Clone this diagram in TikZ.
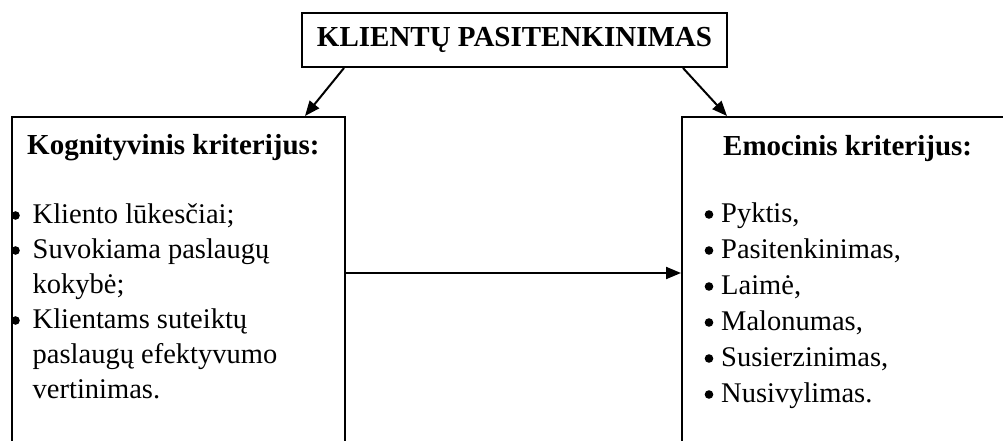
\documentclass[tikz,border=0pt]{standalone}
\usepackage{fontspec}
\setmainfont{Liberation Serif}
\usetikzlibrary{arrows.meta,calc}
\begin{document}
\begin{tikzpicture}[x=1pt,y=-1pt,
  box/.style={draw,line width=2pt,inner sep=0pt},
  arr/.style={line width=2pt,-{Triangle[length=15pt,width=12pt]}},
  head/.style={font=\fontsize{29}{34}\selectfont\bfseries,inner sep=0pt,anchor=base west},
  itm/.style={font=\fontsize{28.5}{34}\selectfont,inner sep=0pt,anchor=base west},
  dot/.style={circle,fill=black,inner sep=0pt,minimum size=8.6pt}]
\clip (0,0) rectangle (1003,441);
\node[box,minimum width=425pt,minimum height=54pt,font=\fontsize{29}{34}\selectfont\bfseries] (top) at (514.5,40) {KLIENTŲ PASITENKINIMAS};
\node[box,minimum width=333pt,minimum height=400pt,anchor=north west] (L) at (11,116) {};
\node[box,minimum width=334pt,minimum height=400pt,anchor=north west] (R) at (681,116) {};
\draw[arr] ($(top.south west)+(43,0)$) -- ($(L.north west)+(294,0)$);
\draw[arr] ($(top.south east)+(-45,0)$) -- ($(R.north west)+(46,0)$);
\coordinate (m) at (0,273);
\draw[arr] (L.east |- m) -- (R.west |- m);
\node[head] (hl) at (27,154) {Kognityvinis kriterijus:};
\node[head] (hr) at (723,155) {Emocinis kriterijus:};
% left list
\node[itm] (l1) at (32.5,223) {Kliento lūkesčiai;};
\node[itm] (l2) at (32.5,258) {Suvokiama paslaugų};
\node[itm] (l3) at (32.5,293) {kokybė;};
\node[itm] (l4) at (32.5,328) {Klientams suteiktų};
\node[itm] (l5) at (32.5,363) {paslaugų efektyvumo};
\node[itm] (l6) at (32.5,398) {vertinimas.};
\foreach \n/\yy in {1/223,2/258,4/328}
  \node[dot] (lb\n) at (15.5,\yy-7.5) {};
% right list
\node[itm] (r1) at (721,222) {Pyktis,};
\node[itm] (r2) at (721,258) {Pasitenkinimas,};
\node[itm] (r3) at (721,294) {Laimė,};
\node[itm] (r4) at (721,330) {Malonumas,};
\node[itm] (r5) at (721,366) {Susierzinimas,};
\node[itm] (r6) at (721,402) {Nusivylimas.};
\foreach \n/\yy in {1/222,2/258,3/294,4/330,5/366,6/402}
  \node[dot] (rb\n) at (709,\yy-7.5) {};
\end{tikzpicture}
\end{document}
